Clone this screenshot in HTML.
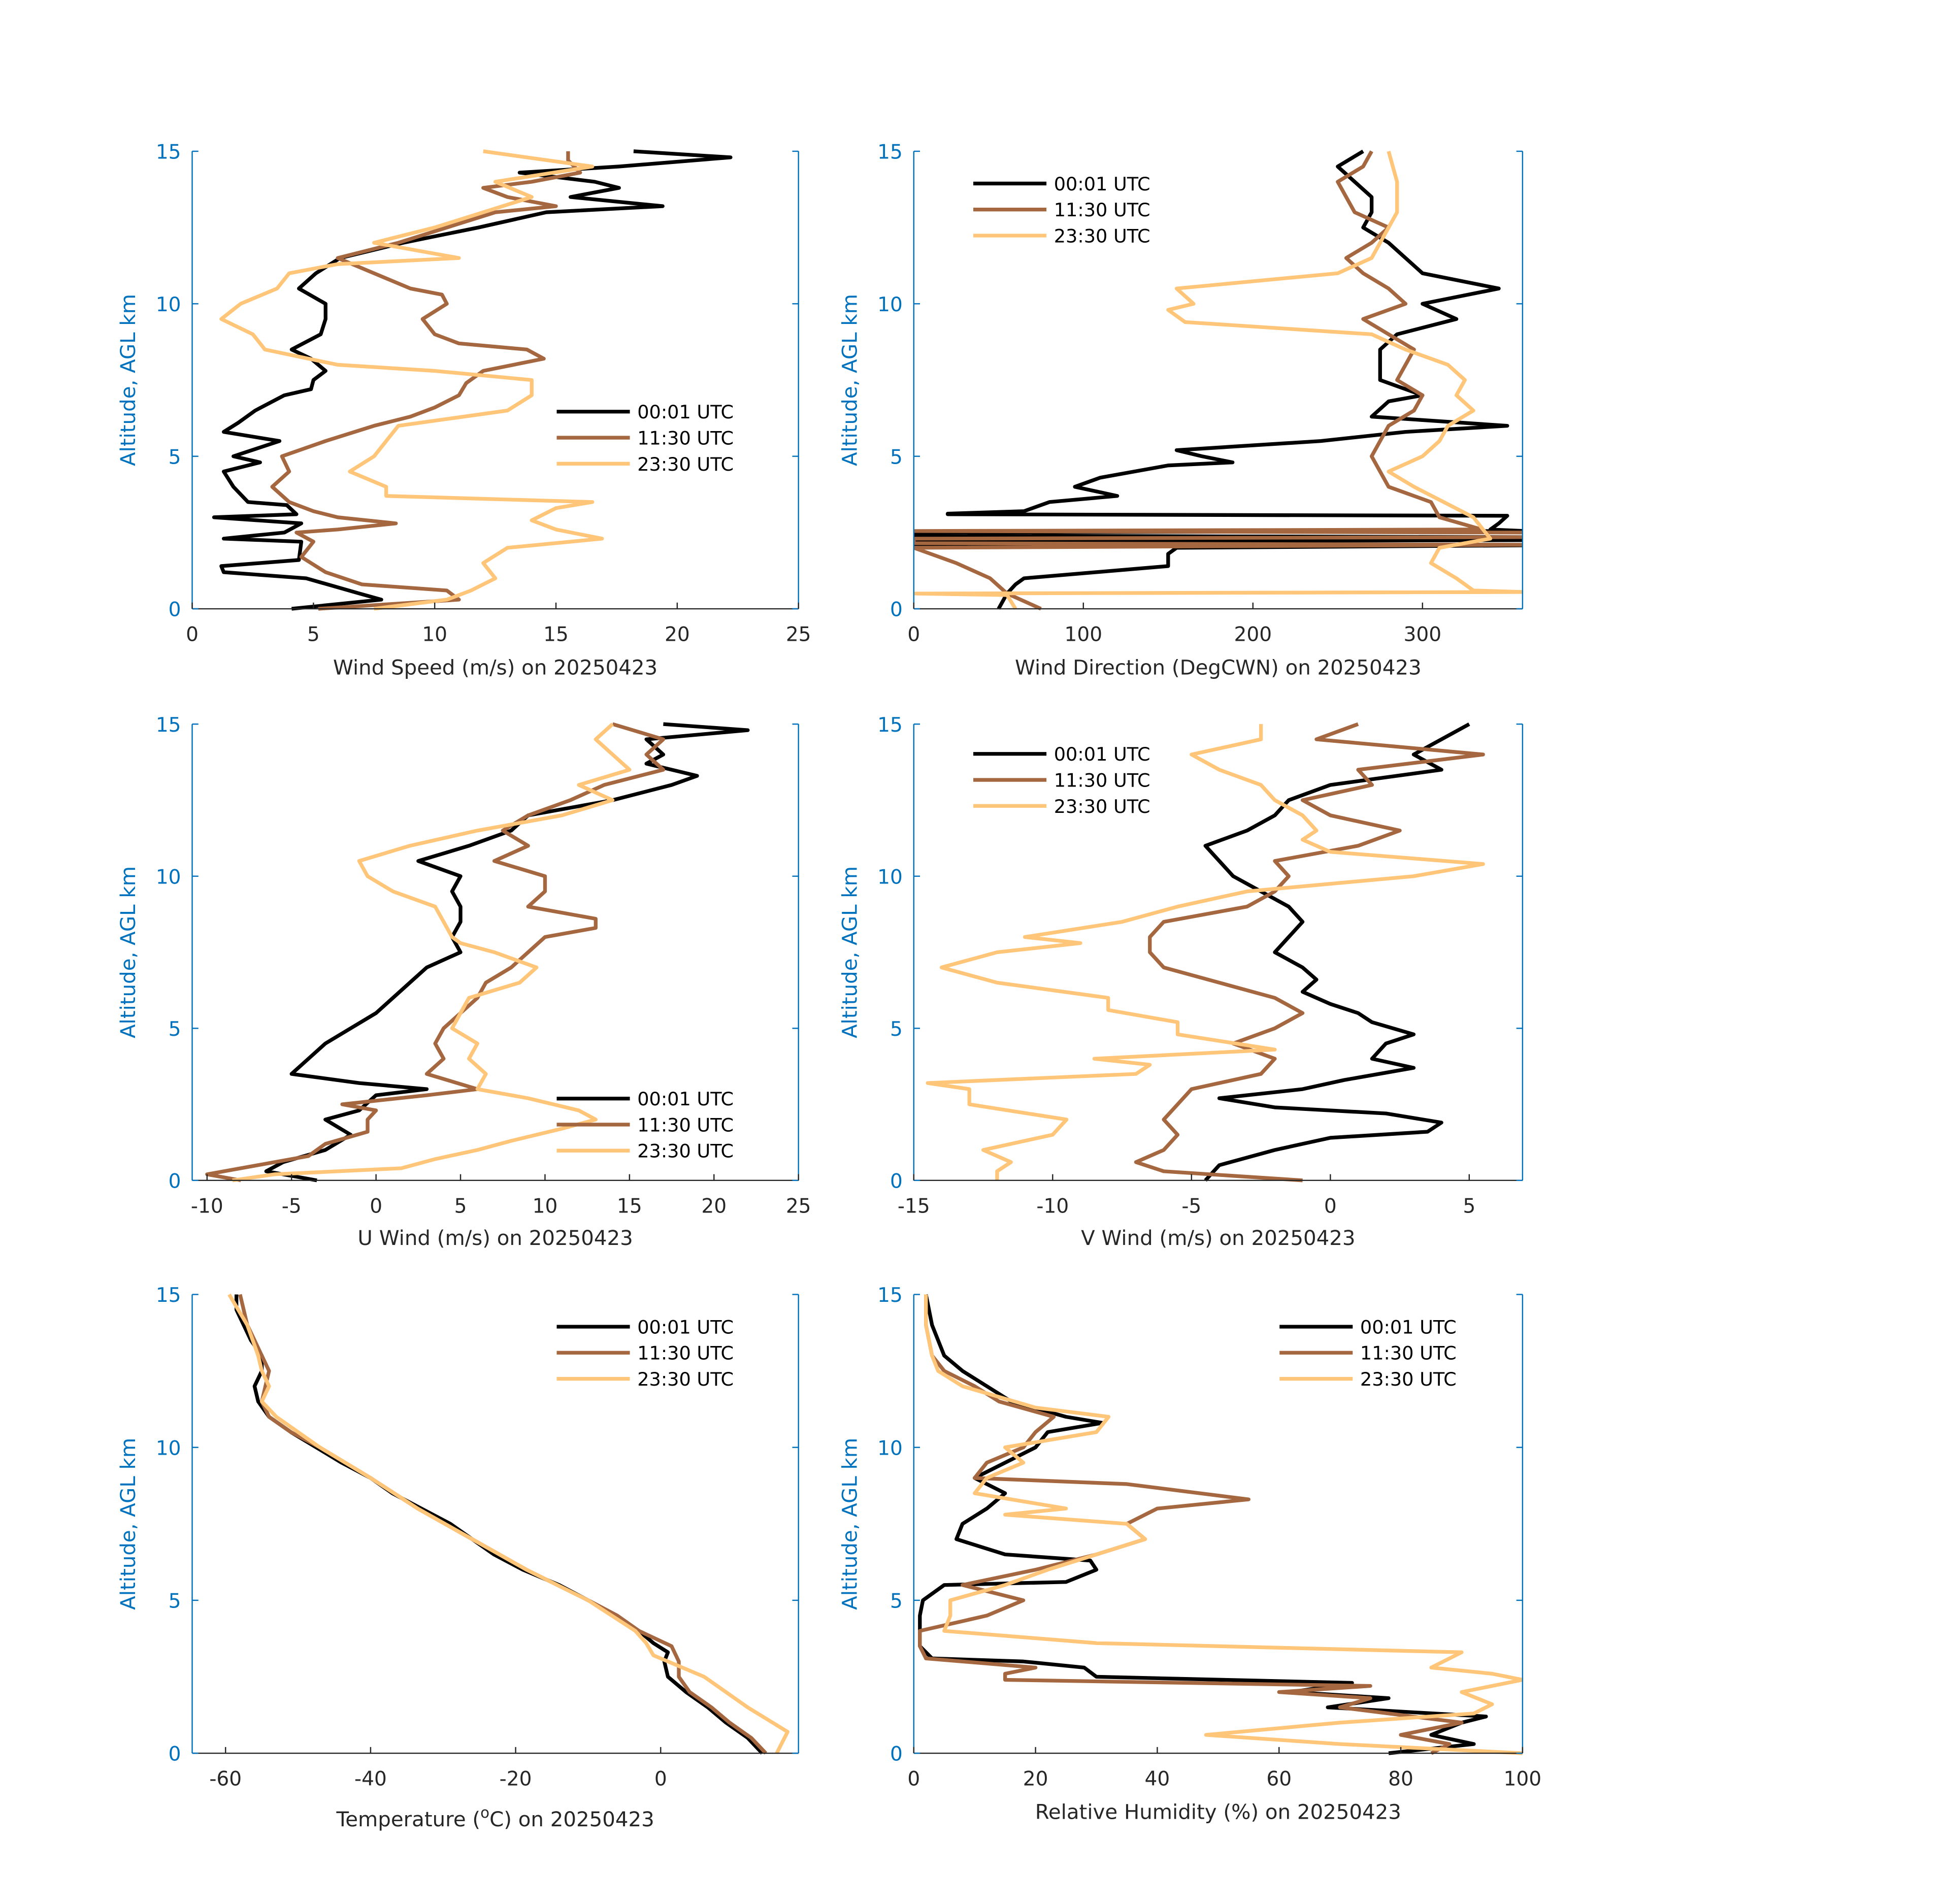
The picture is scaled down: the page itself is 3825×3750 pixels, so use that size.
<!DOCTYPE html>
<html><head><meta charset="utf-8"><style>
html,body{margin:0;padding:0;background:#fff}
svg{display:block;font-family:"DejaVu Sans","Liberation Sans",sans-serif}
</style></head><body>
<svg id="fig" width="3825" height="3750" viewBox="0 0 1566.3 1535.6" xmlns="http://www.w3.org/2000/svg"></svg>
<script>
// ---- data (altitude km / values) ----
const wsAltBlack=[0,0.3,0.5,1.0,1.2,1.4,1.6,2.2,2.3,2.5,2.8,3.0,3.1,3.4,3.5,4.0,4.5,4.8,5.0,5.5,5.8,6.1,6.5,7.0,7.2,7.5,7.8,8.2,8.5,9.0,9.5,10,10.5,11,11.5,12,12.5,13,13.2,13.5,13.8,14,14.3,14.5,14.8,15];
const wsBlack=[4.1,7.8,6.9,4.7,1.3,1.2,4.4,4.5,1.3,3.8,4.5,0.9,4.3,3.9,2.3,1.7,1.3,2.8,1.7,3.6,1.3,1.9,2.6,3.8,4.9,5.0,5.5,4.9,4.1,5.3,5.5,5.5,4.4,5.1,6.1,8.7,11.8,14.6,19.4,15.6,17.6,16.6,13.5,17.6,22.2,18.2];
const wsAltBrown=[0,0.3,0.6,0.8,1.2,1.7,2.2,2.5,2.6,2.8,3.0,3.2,3.5,4.0,4.5,5.0,5.5,6.0,6.3,6.6,7.0,7.4,7.8,8.2,8.5,8.7,9.0,9.5,10,10.3,10.5,11,11.5,12,12.5,13,13.2,13.5,13.8,14,14.3,14.7,15];
const wsBrown=[5.2,11,10.5,7,5.5,4.5,5,4.3,6,8.4,6,5,4,3.3,4,3.7,5.5,7.5,9,10,11,11.3,12,14.5,13.8,11,10,9.5,10.5,10.3,9,7.5,6,8.5,10.5,12.5,15,13,12,14,16,15.5,15.5];
const wsAltOrange=[0,0.3,0.6,1.0,1.5,2.0,2.3,2.6,2.9,3.3,3.5,3.7,4.0,4.5,5.0,5.5,6.0,6.5,7.0,7.5,7.8,8.0,8.5,9.0,9.5,10,10.5,11,11.3,11.5,12,12.5,13,13.5,14,14.5,15];
const wsOrange=[7.5,10.5,11.5,12.5,12,13,16.9,15,14,15,16.5,8,8,6.5,7.5,8,8.5,13,14,14,10,6,3,2.5,1.2,2,3.5,4,6,11,7.5,10,12,14,12.5,16.5,12];

const wdAltBlack=[0,0.5,0.8,1.0,1.4,1.8,2.0,2.08,2.12,2.2,2.25,2.35,2.4,2.5,2.55,2.6,2.8,3.05,3.1,3.12,3.2,3.5,3.7,4.0,4.3,4.7,4.8,5.0,5.2,5.5,5.8,6.0,6.3,6.8,7.0,7.5,8.0,8.5,9.0,9.5,10,10.5,11,11.5,12,12.5,13,13.5,14,14.5,15];
const wdBlack=[50,55,60,65,150,150,155,360,0,0,360,360,0,0,360,340,345,350,20,20,65,80,120,95,110,150,188,170,155,240,290,350,270,280,300,275,275,275,285,320,300,345,300,290,280,265,270,270,260,250,265];
const wdAltBrown=[0,0.5,1.0,1.5,2.0,2.1,2.15,2.3,2.35,2.5,2.55,2.6,3.0,3.5,4.0,4.5,5.0,5.5,6.0,6.5,7.0,7.5,8.0,8.5,9.0,9.5,10,10.5,11,11.5,12,12.5,13,13.5,14,14.5,15];
const wdBrown=[75,55,45,25,0,360,0,0,360,360,0,335,310,305,280,275,270,275,280,295,300,285,290,295,280,265,290,280,265,255,270,280,260,255,250,265,270];
const wdAltOrange=[0,0.45,0.5,0.55,0.6,1.0,1.5,2.0,2.3,3.0,4.0,4.5,5.0,5.5,6.0,6.5,7,7.5,8.0,8.5,9.0,9.4,9.8,10.0,10.5,11,11.5,12,13,14,15];
const wdOrange=[60,55,0,360,330,320,305,310,340,330,295,280,300,310,315,330,320,325,315,290,270,160,150,165,155,250,270,275,285,285,280];

const uAltBlack=[0,0.3,0.6,1.0,1.5,2.0,2.3,2.8,3.0,3.2,3.5,4.0,4.5,5.0,5.5,6.0,6.5,7.0,7.5,8.0,8.5,9.0,9.5,10,10.5,11,11.5,12,12.5,13,13.3,13.7,14,14.5,14.8,15];
const uBlack=[-3.5,-6.5,-5.5,-3,-1.5,-3,-1,0,3,-1,-5,-4,-3,-1.5,0,1,2,3,5,4.5,5,5,4.5,5,2.5,5.5,8,9,14,17.5,19,16,17,16,22,17];
const uAltBrown=[0,0.2,0.5,0.8,1.2,1.6,2.0,2.3,2.5,2.8,3.0,3.5,4.0,4.5,5.0,5.5,6.0,6.5,7.0,7.5,8.0,8.3,8.6,9.0,9.5,10,10.5,11,11.5,12,12.5,13,13.5,14,14.5,15];
const uBrown=[-8,-10,-7,-4,-3,-0.5,-0.5,0,-2,3,6,3,4,3.5,4,5,6,6.5,8,9,10,13,13,9,10,10,7,9,7.5,9,11.5,13.5,17,16,17,14];
const uAltOrange=[0,0.2,0.4,0.7,1.0,1.3,1.7,2.0,2.3,2.7,3.0,3.5,4.0,4.5,5.0,5.5,6.0,6.5,7.0,7.5,7.8,8.0,8.5,9.0,9.5,10,10.5,11,11.5,12,12.5,13,13.5,14,14.5,15];
const uOrange=[-8.5,-6,1.5,3.5,6,8,11,13,12,9,6,6.5,5.5,6,4.5,5,5.5,8.5,9.5,7,5,4.5,4,3.5,1,-0.5,-1,2,6,11,14,12,15,14,13,14];

const vAltBlack=[0,0.5,1.0,1.4,1.6,1.9,2.2,2.4,2.7,3.0,3.3,3.7,4.0,4.5,4.8,5.2,5.5,5.8,6.2,6.6,7.0,7.5,8.0,8.5,9.0,9.5,10,10.5,11,11.5,12,12.5,13,13.5,14,14.5,15];
const vBlack=[-4.5,-4,-2,0,3.5,4,2,-2,-4,-1,0.5,3,1.5,2,3,1.5,1,0,-1,-0.5,-1,-2,-1.5,-1,-1.5,-2.5,-3.5,-4,-4.5,-3,-2,-1.5,0,4,3,4,5];
const vAltBrown=[0,0.3,0.6,1.0,1.5,2.0,2.5,3.0,3.5,4.0,4.5,5.0,5.5,6.0,6.5,7.0,7.5,8.0,8.5,9.0,9.5,10,10.5,11,11.5,12,12.5,13,13.5,14,14.5,15];
const vBrown=[-1,-6,-7,-6,-5.5,-6,-5.5,-5,-2.5,-2,-3.5,-2,-1,-2,-4,-6,-6.5,-6.5,-6,-3,-2,-1.5,-2,1,2.5,0,-1,1.5,1,5.5,-0.5,1];
const vAltOrange=[0,0.3,0.6,1.0,1.5,2.0,2.5,3.0,3.2,3.5,3.8,4.0,4.3,4.8,5.2,5.6,6.0,6.5,7.0,7.5,7.8,8.0,8.5,9.0,9.5,10,10.4,10.8,11.2,11.5,12,12.5,13,13.5,14,14.5,15];
const vOrange=[-12,-12,-11.5,-12.5,-10,-9.5,-13,-13,-14.5,-7,-6.5,-8.5,-2,-5.5,-5.5,-8,-8,-12,-14,-12,-9,-11,-7.5,-5.5,-3,3,5.5,0,-1,-0.5,-1,-2,-2.5,-4,-5,-2.5,-2.5];

const tAltBlack=[0,0.5,1.0,1.5,2.0,2.5,3.0,3.3,3.6,4.0,4.5,5.0,5.5,6.0,6.5,7.0,7.5,8.0,8.5,9.0,9.5,10,10.5,11,11.5,12,12.5,13,13.5,14,14.5,15];
const tBlack=[14,12,9,6.5,3.5,1,0.5,1,-1,-3,-6,-10,-14,-19,-23,-26,-29,-33,-37,-40,-44,-47.5,-51,-54,-55.5,-56,-55,-55,-56.5,-57.5,-58.5,-58.5];
const tAltBrown=[0,0.5,1.0,1.5,2.0,2.5,3.0,3.5,4.0,4.5,5.0,6.0,7.0,8.0,9.0,10,10.5,11,11.5,12,12.5,13,14,15];
const tBrown=[14.5,12.5,9.5,7,4,2.5,2.5,1.5,-3,-6,-10,-18.5,-26,-33.5,-40,-47,-51,-54,-55,-54.5,-54,-55,-57,-58];
const tAltOrange=[0,0.7,1.5,2.5,3.2,3.6,4,5,6,7,8,9,10,11,11.5,12,12.5,13,14,15];
const tOrange=[16,17.5,12,6,-1,-2,-3.5,-10,-18.5,-26,-33.5,-40,-47,-53,-55,-54,-55,-55.5,-57,-59.5];

const rhAltBlack=[0,0.3,0.6,1.0,1.2,1.5,1.8,2.0,2.3,2.5,2.8,3.0,3.1,3.5,4,4.5,5.0,5.5,5.6,6.0,6.3,6.5,7,7.5,8,8.5,9,9.5,10,10.5,10.8,11,11.5,12,12.5,13,14,15];
const rhBlack=[78,92,85,90,94,68,78,62,72,30,28,18,3,1,1,1,1.5,5,25,30,29,15,7,8,12,15,10,15,20,22,31,25,16,12,8,5,3,2];
const rhAltBrown=[0,0.3,0.6,1.0,1.5,1.8,2.0,2.2,2.4,2.6,2.8,3.1,3.5,4,4.5,5.0,5.5,6,6.5,7,7.5,8,8.3,8.8,9,9.5,10,10.5,11,11.5,12,12.5,13,14,15];
const rhBrown=[85,88,80,90,70,75,60,75,15,15,20,2,1,1,12,18,8,20,30,38,35,40,55,35,10,12,18,20,23,14,10,5,3,2,2];
const rhAltOrange=[0,0.3,0.6,1.0,1.3,1.6,2,2.4,2.6,2.8,3.3,3.6,4,4.5,5,5.5,6,6.5,7,7.5,7.8,8,8.5,9,9.5,10,10.5,11,11.3,12,12.5,13,14,15];
const rhOrange=[100,70,48,70,92,95,90,100,95,85,90,30,5,6,6,15,22,30,38,35,15,25,10,12,18,15,30,32,20,8,4,3,2,2];

const legendLabels=["00:01 UTC","11:30 UTC","23:30 UTC"];
const altTicks=[0,5,10,15];

const COLORS=["#000000","#a5673f","#ffc578"];
const NS="http://www.w3.org/2000/svg";
const fig=document.getElementById('fig');
function mk(tag,attrs,parent){const e=document.createElementNS(NS,tag);for(const k in attrs)e.setAttribute(k,attrs[k]);(parent||fig).appendChild(e);return e;}
const defs=mk('defs',{});

const panels=[
 {name:'wind-speed',x0:155,x1:644,y0:491,y1:122,xmin:0,xmax:25,xticks:[0,5,10,15,20,25],title:'Wind Speed (m/s) on 20250423',titleY:544,
  series:[[wsAltBlack,wsBlack],[wsAltBrown,wsBrown],[wsAltOrange,wsOrange]],leg:[449,332]},
 {name:'wind-direction',x0:737,x1:1228,y0:491,y1:122,xmin:0,xmax:359,xticks:[0,100,200,300],title:'Wind Direction (DegCWN) on 20250423',titleY:544,
  series:[[wdAltBlack,wdBlack],[wdAltBrown,wdBrown],[wdAltOrange,wdOrange]],leg:[785,148]},
 {name:'u-wind',x0:155,x1:644,y0:952,y1:584,xmin:-10.88,xmax:25,xticks:[-10,-5,0,5,10,15,20,25],title:'U Wind (m/s) on 20250423',titleY:1004,
  series:[[uAltBlack,uBlack],[uAltBrown,uBrown],[uAltOrange,uOrange]],leg:[449,886]},
 {name:'v-wind',x0:737,x1:1228,y0:952,y1:584,xmin:-15,xmax:6.92,xticks:[-15,-10,-5,0,5],title:'V Wind (m/s) on 20250423',titleY:1004,
  series:[[vAltBlack,vBlack],[vAltBrown,vBrown],[vAltOrange,vOrange]],leg:[785,608]},
 {name:'temperature',x0:155,x1:644,y0:1414,y1:1044,xmin:-64.6,xmax:19,xticks:[-60,-40,-20,0],title:null,titleY:1473,
  series:[[tAltBlack,tBlack],[tAltBrown,tBrown],[tAltOrange,tOrange]],leg:[449,1070]},
 {name:'relative-humidity',x0:737,x1:1228,y0:1414,y1:1044,xmin:0,xmax:100,xticks:[0,20,40,60,80,100],title:'Relative Humidity (%) on 20250423',titleY:1467,
  series:[[rhAltBlack,rhBlack],[rhAltBrown,rhBrown],[rhAltOrange,rhOrange]],leg:[1032,1070]}
];

panels.forEach((p,pi)=>{
 const g=mk('g',{});
 
 
 const cp=mk('clipPath',{id:'clip'+pi},defs);
 mk('rect',{x:p.x0,y:p.y1-3,width:p.x1-p.x0,height:p.y0-p.y1+6},cp);
 const sx=v=>p.x0+(v-p.xmin)/(p.xmax-p.xmin)*(p.x1-p.x0);
 const sy=a=>p.y0+(a-0)/(15-0)*(p.y1-p.y0);
 const sg=mk('g',{'clip-path':'url(#clip'+pi+')'},g);
 p.series.forEach((s,i)=>{
  const pts=s[0].map((a,j)=>sx(s[1][j]).toFixed(2)+','+sy(a).toFixed(2)).join(' ');
  const pl=mk('polyline',{points:pts,fill:'none',stroke:COLORS[i],'stroke-width':3,'stroke-linejoin':'round'},sg);
  
  
 });
 mk('line',{x1:p.x0,y1:p.y0,x2:p.x0,y2:p.y1,stroke:'#0072bd','stroke-width':1},g);
 mk('line',{x1:p.x1,y1:p.y0,x2:p.x1,y2:p.y1,stroke:'#0072bd','stroke-width':1},g);
 mk('line',{x1:p.x0,y1:p.y0,x2:p.x1,y2:p.y0,stroke:'#262626','stroke-width':1},g);
 altTicks.forEach(t=>{
  const y=sy(t);
  mk('line',{x1:p.x0,y1:y,x2:p.x0+5,y2:y,stroke:'#0072bd'},g);
  mk('line',{x1:p.x1,y1:y,x2:p.x1-5,y2:y,stroke:'#0072bd'},g);
  const tx=mk('text',{x:p.x0-9,y:y+6,'text-anchor':'end','font-size':16,fill:'#0072bd'},g);
  tx.textContent=t;
  
  
 });
 p.xticks.forEach(t=>{
  const x=sx(t);
  mk('line',{x1:x,y1:p.y0,x2:x,y2:p.y0-5,stroke:'#262626'},g);
  const tx=mk('text',{x:x,y:p.y0+26,'text-anchor':'middle','font-size':16,fill:'#262626'},g);
  tx.textContent=t;
  
  
 });
 const yt=mk('text',{x:0,y:0,'text-anchor':'middle','font-size':16.5,fill:'#0072bd',transform:`translate(${p.x0-46},${(p.y0+p.y1)/2}) rotate(-90)`},g);
 yt.textContent='Altitude, AGL km';
 
 
 const xt=mk('text',{x:(p.x0+p.x1)/2,y:p.titleY,'text-anchor':'middle','font-size':16.5,fill:'#262626'},g);
 if(p.title){xt.textContent=p.title;}
 else{
  xt.appendChild(document.createTextNode('Temperature ('));
  const sup=mk('tspan',{dy:-7,'font-size':12},xt);sup.textContent='o';
  const rest=mk('tspan',{dy:7},xt);rest.textContent='C) on 20250423';
 }
 
 
 const lg=mk('g',{},g);
 
 
 legendLabels.forEach((lab,i)=>{
  const y=p.leg[1]+i*21;
  mk('line',{x1:p.leg[0],y1:y,x2:p.leg[0]+59,y2:y,stroke:COLORS[i],'stroke-width':3},lg);
  const tx=mk('text',{x:p.leg[0]+65,y:y+5.5,'font-size':15,fill:'#000'},lg);
  tx.textContent=lab;
  
  
 });
});
</script>
</body></html>
